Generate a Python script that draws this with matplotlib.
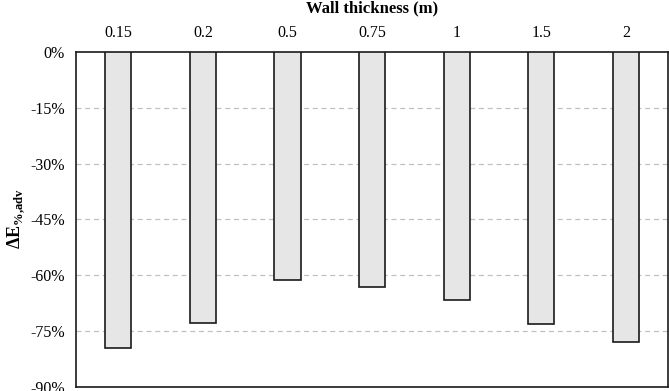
import matplotlib.pyplot as plt
import numpy as np

# wall thickness categories and relative energy change (%)
thickness = ['0.15', '0.2', '0.5', '0.75', '1', '1.5', '2']
delta_e = [-79.5, -72.7, -61.3, -63.2, -66.7, -73.1, -77.8]
y_ticks = [0, -15, -30, -45, -60, -75, -90]

plt.rcParams['font.family'] = ['Liberation Serif', 'DejaVu Serif']
plt.rcParams['mathtext.fontset'] = 'custom'
plt.rcParams['mathtext.rm'] = 'Liberation Serif'
plt.rcParams['mathtext.bf'] = 'Liberation Serif:bold'

fig = plt.figure(figsize=(6.69, 3.91), dpi=100)
ax = fig.add_axes([0.1136, 0.0102, 0.885, 0.857])

x = np.arange(len(thickness))
ax.bar(x, delta_e, width=0.31, color='#e6e6e6', edgecolor='#1a1a1a', linewidth=1.2, zorder=3)

ax.set_xlim(-0.5, len(thickness) - 0.5)
ax.set_ylim(-90, 0)
ax.set_yticks(y_ticks)
ax.set_yticklabels([f'{v}%' for v in y_ticks], fontsize=11.5)
ax.set_xticks(x)
ax.set_xticklabels(thickness, fontsize=11.5)
ax.xaxis.tick_top()
ax.tick_params(length=0, pad=8)

for v in y_ticks[1:-1]:
    ax.axhline(v, color='#c0c0c0', linestyle=(0, (4, 3)), linewidth=0.9, zorder=1)

for s in ax.spines.values():
    s.set_linewidth(1.2)
    s.set_color('#1a1a1a')

fig.text(0.556, 0.978, 'Wall thickness (m)', ha='center', va='center', fontsize=12, fontweight='bold')
fig.text(0.024, 0.44, r'$\mathbf{\Delta E}_{\mathbf{\%{,}adv}}$', rotation=90, ha='center', va='center', fontsize=13)

fig.savefig('out.png', dpi=100)
